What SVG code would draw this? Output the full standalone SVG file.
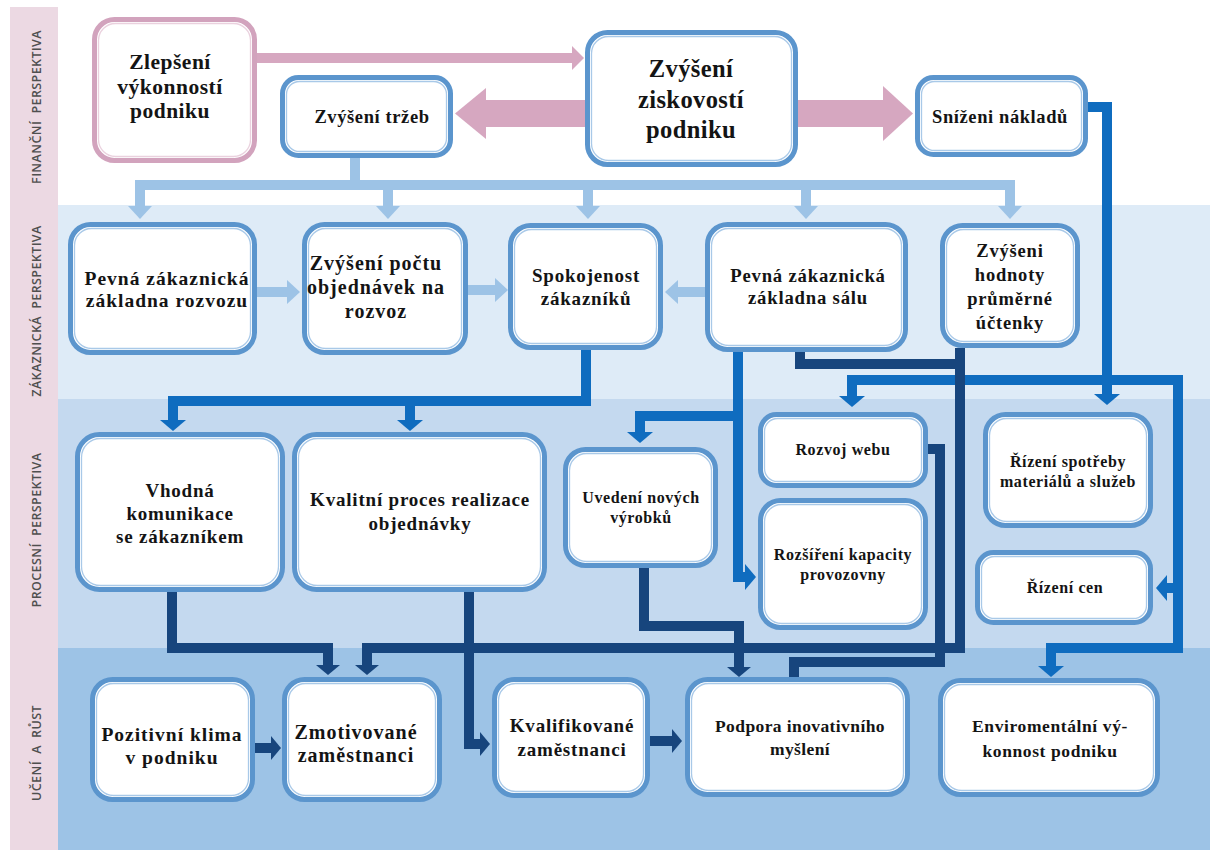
<svg xmlns="http://www.w3.org/2000/svg" width="1210" height="850" viewBox="0 0 1210 850">
  <style>
    .band-fin { fill: #ffffff; }
    .band-cust { fill: #deebf7; }
    .band-proc { fill: #c4d9ef; }
    .band-learn { fill: #9dc3e6; }
    .strip { fill: #ecd9e3; }
    .lane { font-family: "Open Sans", "Liberation Sans", sans-serif; font-size: 12.5px; font-weight: 600; fill: #4f4f4f; text-anchor: middle; letter-spacing: 0.4px; white-space: pre; }
    .box { fill: #ffffff; stroke: #5b95cd; stroke-width: 5; }
    .box-in { fill: #ffffff; stroke: #a9c9e8; stroke-width: 1.3; }
    .pbox { fill: #ffffff; stroke: #d2a3bd; stroke-width: 5; }
    .pbox-in { fill: #ffffff; stroke: #ead1de; stroke-width: 1.3; }
    .t { font-family: "Liberation Serif", "Times New Roman", serif; font-weight: bold; fill: #141414; text-anchor: middle; }
    .c-light { fill: none; stroke: #9dc3e6; stroke-width: 10; stroke-linejoin: miter; }
    .c-mid { fill: none; stroke: #0f6cbf; stroke-width: 10; stroke-linejoin: miter; }
    .c-navy { fill: none; stroke: #17457d; stroke-width: 10; stroke-linejoin: miter; }
    .pink { fill: #d6a7c0; }
  </style>
  <defs>
    <marker id="ah-light" markerUnits="userSpaceOnUse" markerWidth="13" markerHeight="24" viewBox="0 0 13 24" refX="0" refY="12" orient="auto">
      <polygon points="0,0 13,12 0,24" fill="#9dc3e6"/>
    </marker>
    <marker id="ah-mid" markerUnits="userSpaceOnUse" markerWidth="11" markerHeight="26" viewBox="0 0 11 26" refX="0" refY="13" orient="auto">
      <polygon points="0,0 11,13 0,26" fill="#0f6cbf"/>
    </marker>
    <marker id="ah-navy" markerUnits="userSpaceOnUse" markerWidth="10" markerHeight="24" viewBox="0 0 10 24" refX="0" refY="12" orient="auto">
      <polygon points="0,0 10,12 0,24" fill="#17457d"/>
    </marker>
  </defs>

  <!-- perspective bands -->
  <g id="bands">
    <rect class="band-fin" x="58" y="7" width="1152" height="198"/>
    <rect class="band-cust" x="58" y="205" width="1152" height="194"/>
    <rect class="band-proc" x="58" y="399" width="1152" height="249"/>
    <rect class="band-learn" x="58" y="648" width="1152" height="202"/>
    <rect class="strip" x="10" y="7" width="48" height="843"/>
    <text class="lane" x="41" y="107" transform="rotate(-90 41 107)">FINANČNÍ  PERSPEKTIVA</text>
    <text class="lane" x="41" y="311" transform="rotate(-90 41 311)">ZÁKAZNICKÁ  PERSPEKTIVA</text>
    <text class="lane" x="41" y="530" transform="rotate(-90 41 530)">PROCESNÍ  PERSPEKTIVA</text>
    <text class="lane" x="41" y="753" transform="rotate(-90 41 753)">UČENÍ  A  RŮST</text>
  </g>

  <!-- connectors -->
  <g id="connectors">
    <!-- financial block arrows -->
    <rect class="pink" x="257" y="53" width="316" height="10"/>
    <polygon class="pink" points="572,46 584,58 572,70"/>
    <rect class="pink" x="484" y="100" width="102" height="27"/>
    <polygon class="pink" points="486,88 455,113.5 486,139"/>
    <rect class="pink" x="797" y="100" width="87" height="27"/>
    <polygon class="pink" points="883,86 913,113.5 883,141"/>

    <!-- revenue distribution (light) -->
    <path class="c-light" d="M355,158 V185"/>
    <path class="c-light" d="M135,185 H1015"/>
    <path class="c-light" d="M140,185 V206" marker-end="url(#ah-light)"/>
    <path class="c-light" d="M388,185 V206" marker-end="url(#ah-light)"/>
    <path class="c-light" d="M588,185 V206" marker-end="url(#ah-light)"/>
    <path class="c-light" d="M806,185 V206" marker-end="url(#ah-light)"/>
    <path class="c-light" d="M1010,185 V206" marker-end="url(#ah-light)"/>
    <path class="c-light" d="M257,292 H287" marker-end="url(#ah-light)"/>
    <path class="c-light" d="M468,290 H495" marker-end="url(#ah-light)"/>
    <path class="c-light" d="M705,292 H678" marker-end="url(#ah-light)"/>

    <!-- process links (mid blue) -->
    <path class="c-mid" d="M586,350 V401 H173 V420" marker-end="url(#ah-mid)"/>
    <path class="c-mid" d="M410,396 V420" marker-end="url(#ah-mid)"/>
    <path class="c-mid" d="M738,352 V577 H745" marker-end="url(#ah-mid)"/>
    <path class="c-mid" d="M743,416 H640 V432" marker-end="url(#ah-mid)"/>
    <path class="c-mid" d="M1088,107 H1107 V394" marker-end="url(#ah-mid)"/>
    <path class="c-mid" d="M1107,380 H852 V396" marker-end="url(#ah-mid)"/>
    <path class="c-mid" d="M1107,380 H1178 V648 H1051 V666" marker-end="url(#ah-mid)"/>
    <path class="c-mid" d="M1178,588 H1167" marker-end="url(#ah-mid)"/>

    <!-- learning links (navy) -->
    <path class="c-navy" d="M172,592 V648 H328 V665" marker-end="url(#ah-navy)"/>
    <path class="c-navy" d="M800,352 V364 H960"/>
    <path class="c-navy" d="M960,348 V648 H367 V665" marker-end="url(#ah-navy)"/>
    <path class="c-navy" d="M928,449 H940 V662 H794 V677"/>
    <path class="c-navy" d="M644,568 V626 H739 V667" marker-end="url(#ah-navy)"/>
    <path class="c-navy" d="M469,592 V744 H480" marker-end="url(#ah-navy)"/>
    <path class="c-navy" d="M255,748 H271" marker-end="url(#ah-navy)"/>
    <path class="c-navy" d="M650,741 H672" marker-end="url(#ah-navy)"/>
  </g>

  <!-- financial perspective -->
  <g id="n-zlepseni">
    <rect class="pbox" x="94.5" y="19.5" width="160" height="141" rx="20"/>
    <rect class="pbox-in" x="98.5" y="23.5" width="152" height="133" rx="17"/>
    <text class="t" font-size="21.5" letter-spacing="0.5" x="170" y="69">Zlepšení</text>
    <text class="t" font-size="21.5" letter-spacing="0.5" x="170" y="94">výkonností</text>
    <text class="t" font-size="21.5" letter-spacing="0.5" x="170" y="118">podniku</text>
  </g>
  <g id="n-trzby">
    <rect class="box" x="282.5" y="77.5" width="168" height="78" rx="16"/>
    <rect class="box-in" x="286.5" y="81.5" width="160" height="70" rx="13"/>
    <text class="t" font-size="18.5" letter-spacing="0.6" x="372" y="123">Zvýšení tržeb</text>
  </g>
  <g id="n-ziskovost">
    <rect class="box" x="587.5" y="32.5" width="208" height="132" rx="20"/>
    <rect class="box-in" x="591.5" y="36.5" width="200" height="124" rx="17"/>
    <text class="t" font-size="24.5" letter-spacing="0.4" x="691" y="77">Zvýšení</text>
    <text class="t" font-size="24.5" letter-spacing="0.4" x="691" y="108">ziskovostí</text>
    <text class="t" font-size="24.5" letter-spacing="0.4" x="691" y="138">podniku</text>
  </g>
  <g id="n-naklady">
    <rect class="box" x="917.5" y="77.5" width="168" height="77" rx="16"/>
    <rect class="box-in" x="921.5" y="81.5" width="160" height="69" rx="13"/>
    <text class="t" font-size="18.5" letter-spacing="0.6" x="1000" y="123">Sníženi nákladů</text>
  </g>

  <!-- customer perspective -->
  <g id="n-rozvoz">
    <rect class="box" x="70.5" y="224.5" width="184" height="128" rx="20"/>
    <rect class="box-in" x="74.5" y="228.5" width="176" height="120" rx="17"/>
    <text class="t" font-size="19.5" letter-spacing="1" x="167" y="285">Pevná zákaznická</text>
    <text class="t" font-size="19.5" letter-spacing="1" x="167" y="307">základna rozvozu</text>
  </g>
  <g id="n-objednavky">
    <rect class="box" x="304.5" y="224.5" width="161" height="128" rx="20"/>
    <rect class="box-in" x="308.5" y="228.5" width="153" height="120" rx="17"/>
    <text class="t" font-size="20" letter-spacing="1" x="376" y="270">Zvýšení počtu</text>
    <text class="t" font-size="20" letter-spacing="1" x="376" y="294">objednávek na</text>
    <text class="t" font-size="20" letter-spacing="1" x="376" y="318">rozvoz</text>
  </g>
  <g id="n-spokojenost">
    <rect class="box" x="510.5" y="225.5" width="150" height="122" rx="20"/>
    <rect class="box-in" x="514.5" y="229.5" width="142" height="114" rx="17"/>
    <text class="t" font-size="19" letter-spacing="0.8" x="586" y="282">Spokojenost</text>
    <text class="t" font-size="19" letter-spacing="0.8" x="586" y="305">zákazníků</text>
  </g>
  <g id="n-sal">
    <rect class="box" x="707.5" y="224.5" width="198" height="125" rx="20"/>
    <rect class="box-in" x="711.5" y="228.5" width="190" height="117" rx="17"/>
    <text class="t" font-size="18.7" letter-spacing="0.8" x="808" y="282">Pevná zákaznická</text>
    <text class="t" font-size="18.7" letter-spacing="0.8" x="808" y="304">základna sálu</text>
  </g>
  <g id="n-uctenka">
    <rect class="box" x="942.5" y="225.5" width="135" height="120" rx="20"/>
    <rect class="box-in" x="946.5" y="229.5" width="127" height="112" rx="17"/>
    <text class="t" font-size="18.5" letter-spacing="0.8" x="1010" y="257">Zvýšeni</text>
    <text class="t" font-size="18.5" letter-spacing="0.8" x="1010" y="281">hodnoty</text>
    <text class="t" font-size="18.5" letter-spacing="0.8" x="1010" y="305">průměrné</text>
    <text class="t" font-size="18.5" letter-spacing="0.8" x="1010" y="329">účtenky</text>
  </g>

  <!-- process perspective -->
  <g id="n-komunikace">
    <rect class="box" x="77.5" y="434.5" width="205" height="155" rx="22"/>
    <rect class="box-in" x="81.5" y="438.5" width="197" height="147" rx="19"/>
    <text class="t" font-size="19" letter-spacing="0.8" x="180" y="497">Vhodná</text>
    <text class="t" font-size="19" letter-spacing="0.8" x="180" y="520">komunikace</text>
    <text class="t" font-size="19" letter-spacing="0.8" x="180" y="543">se zákazníkem</text>
  </g>
  <g id="n-proces">
    <rect class="box" x="294.5" y="434.5" width="250" height="155" rx="22"/>
    <rect class="box-in" x="298.5" y="438.5" width="242" height="147" rx="19"/>
    <text class="t" font-size="19" letter-spacing="0.8" x="420" y="506">Kvalitní proces realizace</text>
    <text class="t" font-size="19" letter-spacing="0.8" x="420" y="530">objednávky</text>
  </g>
  <g id="n-vyrobky">
    <rect class="box" x="565.5" y="449.5" width="150" height="116" rx="20"/>
    <rect class="box-in" x="569.5" y="453.5" width="142" height="108" rx="17"/>
    <text class="t" font-size="16" letter-spacing="0.6" x="641" y="503">Uvedení nových</text>
    <text class="t" font-size="16" letter-spacing="0.6" x="641" y="523">výrobků</text>
  </g>
  <g id="n-web">
    <rect class="box" x="760.5" y="414.5" width="165" height="71" rx="16"/>
    <rect class="box-in" x="764.5" y="418.5" width="157" height="63" rx="13"/>
    <text class="t" font-size="16" letter-spacing="0.6" x="843" y="455">Rozvoj webu</text>
  </g>
  <g id="n-kapacita">
    <rect class="box" x="760.5" y="500.5" width="165" height="127" rx="20"/>
    <rect class="box-in" x="764.5" y="504.5" width="157" height="119" rx="17"/>
    <text class="t" font-size="16" letter-spacing="0.6" x="843" y="560">Rozšíření kapacity</text>
    <text class="t" font-size="16" letter-spacing="0.6" x="843" y="580">provozovny</text>
  </g>
  <g id="n-spotreba">
    <rect class="box" x="985.5" y="414.5" width="165" height="111" rx="20"/>
    <rect class="box-in" x="989.5" y="418.5" width="157" height="103" rx="17"/>
    <text class="t" font-size="16" letter-spacing="0.6" x="1068" y="467">Řízení spotřeby</text>
    <text class="t" font-size="16" letter-spacing="0.6" x="1068" y="487">materiálů a služeb</text>
  </g>
  <g id="n-ceny">
    <rect class="box" x="977.5" y="552.5" width="173" height="70" rx="16"/>
    <rect class="box-in" x="981.5" y="556.5" width="165" height="62" rx="13"/>
    <text class="t" font-size="16" letter-spacing="0.6" x="1065" y="593">Řízení cen</text>
  </g>

  <!-- learning and growth -->
  <g id="n-klima">
    <rect class="box" x="92.5" y="679.5" width="160" height="120" rx="20"/>
    <rect class="box-in" x="96.5" y="683.5" width="152" height="112" rx="17"/>
    <text class="t" font-size="19.5" letter-spacing="1" x="172" y="741">Pozitivní klima</text>
    <text class="t" font-size="19.5" letter-spacing="1" x="172" y="764">v podniku</text>
  </g>
  <g id="n-motivace">
    <rect class="box" x="284.5" y="679.5" width="155" height="120" rx="20"/>
    <rect class="box-in" x="288.5" y="683.5" width="147" height="112" rx="17"/>
    <text class="t" font-size="20" letter-spacing="1" x="356" y="739">Zmotivované</text>
    <text class="t" font-size="20" letter-spacing="1" x="356" y="762">zaměstnanci</text>
  </g>
  <g id="n-kvalifikace">
    <rect class="box" x="494.5" y="679.5" width="153" height="116" rx="20"/>
    <rect class="box-in" x="498.5" y="683.5" width="145" height="108" rx="17"/>
    <text class="t" font-size="19" letter-spacing="0.8" x="572" y="732">Kvalifikované</text>
    <text class="t" font-size="19" letter-spacing="0.8" x="572" y="756">zaměstnanci</text>
  </g>
  <g id="n-inovace">
    <rect class="box" x="687.5" y="679.5" width="220" height="115" rx="20"/>
    <rect class="box-in" x="691.5" y="683.5" width="212" height="107" rx="17"/>
    <text class="t" font-size="17.5" letter-spacing="0.4" x="800" y="732">Podpora inovativního</text>
    <text class="t" font-size="17.5" letter-spacing="0.4" x="800" y="755">myšlení</text>
  </g>
  <g id="n-enviro">
    <rect class="box" x="940.5" y="680.5" width="217" height="114" rx="20"/>
    <rect class="box-in" x="944.5" y="684.5" width="209" height="106" rx="17"/>
    <text class="t" font-size="17.5" letter-spacing="0.6" x="1050" y="732">Enviromentální vý-</text>
    <text class="t" font-size="17.5" letter-spacing="0.6" x="1050" y="757">konnost podniku</text>
  </g>
</svg>
